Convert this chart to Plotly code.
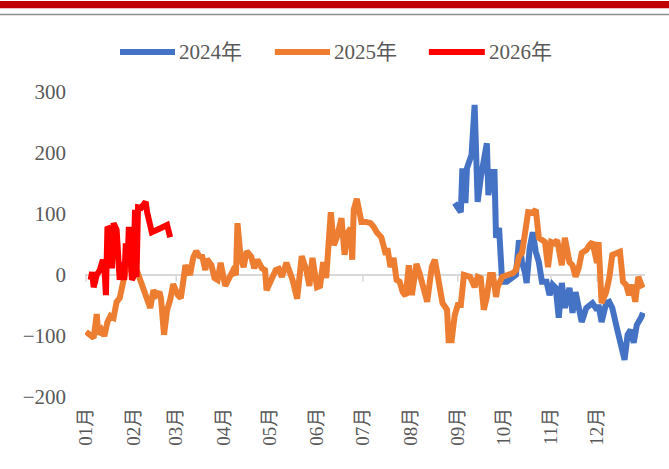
import plotly.graph_objects as go

# 日期统一映射到同一年份(2001)上，按月日对齐比较
BASE_YEAR = "2001"

# 2024年 (9月起)
dates_2024 = [
    "08-30", "09-01", "09-03", "09-04", "09-06", "09-07", "09-10", "09-12", "09-14", "09-16",
    "09-20", "09-21", "09-23", "09-25", "09-26", "09-28", "09-30", "10-03", "10-06", "10-09",
    "10-11", "10-13", "10-15", "10-16", "10-18", "10-20", "10-22", "10-24", "10-26", "10-29",
    "10-31", "11-02", "11-04", "11-06", "11-08", "11-10", "11-13", "11-15", "11-17", "11-19",
    "11-21", "11-24", "11-26", "11-28", "12-01", "12-02", "12-04", "12-07", "12-09", "12-11",
    "12-14", "12-18", "12-19", "12-21", "12-23", "12-25", "12-27", "12-30", "12-31",
]
values_2024 = [
    118, 111, 103, 175, 118, 175, 197, 279, 120, 159,
    216, 131, 169, 169, 61, 77, -11, -11, -5, 0,
    57, 21, 3, -13, 44, 70, 38, 21, -11, -11,
    -33, -16, -21, -70, -13, -54, -21, -62, -28, -54,
    -77, -54, -49, -46, -57, -49, -77, -46, -44, -54,
    -87, -126, -139, -98, -90, -111, -82, -69, -62,
]

# 2025年 (全年)
dates_2025 = [
    "01-01", "01-04", "01-06", "01-08", "01-09", "01-11", "01-13", "01-15", "01-17", "01-19",
    "01-21", "01-23", "01-24", "01-25", "01-27", "01-29", "01-31", "02-02", "02-05", "02-08",
    "02-12", "02-14", "02-16", "02-18", "02-19", "02-21", "02-23", "02-25", "02-27", "03-02",
    "03-04", "03-07", "03-10", "03-12", "03-14", "03-16", "03-18", "03-20", "03-21", "03-24",
    "03-26", "03-28", "03-30", "04-02", "04-05", "04-07", "04-09", "04-10", "04-12", "04-14",
    "04-16", "04-19", "04-21", "04-23", "04-26", "04-28", "04-29", "05-02", "05-05", "05-07",
    "05-09", "05-12", "05-14", "05-16", "05-19", "05-22", "05-25", "05-27", "05-29", "06-01",
    "06-03", "06-05", "06-07", "06-10", "06-12", "06-14", "06-17", "06-19", "06-21", "06-23",
    "06-24", "06-25", "06-27", "06-30", "07-03", "07-06", "07-08", "07-10", "07-13", "07-15",
    "07-16", "07-17", "07-19", "07-21", "07-23", "07-25", "07-27", "07-29", "07-31", "08-02",
    "08-05", "08-07", "08-09", "08-12", "08-15", "08-17", "08-19", "08-22", "08-25", "08-26",
    "08-28", "08-30", "09-01", "09-03", "09-05", "09-09", "09-10", "09-12", "09-14", "09-16",
    "09-18", "09-20", "09-22", "09-24", "09-26", "09-27", "09-30", "10-03", "10-07", "10-09",
    "10-11", "10-13", "10-16", "10-17", "10-20", "10-22", "10-24", "10-28", "10-30", "11-01",
    "11-03", "11-05", "11-08", "11-10", "11-13", "11-15", "11-17", "11-19", "11-21", "11-24",
    "11-26", "11-28", "12-01", "12-02", "12-04", "12-07", "12-09", "12-11", "12-14", "12-16",
    "12-18", "12-20", "12-22", "12-24", "12-26", "12-28", "12-30", "12-31",
]
values_2025 = [
    -93, -100, -103, -64, -97, -90, -100, -77, -67, -70,
    -44, -38, -25, -11, 8, 21, 5, 16, -5, -25,
    -54, -25, -33, -28, -38, -98, -57, -41, -15, -33,
    -38, 16, 0, 28, 39, 31, 30, 8, 26, 16,
    -5, -8, 20, -18, -3, 7, 0, 85, 30, 13,
    39, 30, 11, 25, 11, 8, -25, -11, 8, 10,
    -3, 20, 8, -8, -39, 31, 8, -18, 28, -20,
    -18, 21, -5, 103, 49, 62, 93, 33, 69, 77,
    25, 107, 125, 87, 87, 85, 79, 70, 62, 46,
    33, 44, 13, 28, -8, -11, -28, -34, 16, -33,
    18, 3, -20, -44, 13, 25, -3, -46, -57, -107,
    -107, -66, -49, -49, 0, -3, -8, -20, -3, -5,
    -57, -36, 0, 0, -36, -20, -3, 0, 3, 8,
    30, 36, 85, 103, 102, 107, 61, 54, 13, 54,
    52, 57, 16, 61, 21, 16, -3, 11, 36, 41,
    49, 54, 20, 54, -46, -28, -5, 33, 36, 38,
    -11, -16, -33, -16, -44, -3, -16, -21,
]

# 2026年 (年初至今)
dates_2026 = [
    "01-04", "01-05", "01-06", "01-08", "01-10", "01-12", "01-13", "01-14", "01-15", "01-17",
    "01-18", "01-19", "01-21", "01-22", "01-23", "01-24", "01-26", "01-27", "01-28", "01-29",
    "01-31", "02-01", "02-02", "02-03", "02-04", "02-06", "02-09", "02-10", "02-12", "02-13",
    "02-19", "02-23", "02-25",
]
values_2026 = [
    -8, 5, -20, 0, 8, 25, 13, -33, 79, 74,
    11, 85, 74, 3, -8, 21, -8, 52, 13, 79,
    -8, -3, 107, -3, 111, 110, 120, 102, 79, 70,
    77, 82, 62,
]

month_ticks = [f"{BASE_YEAR}-{m:02d}-01" for m in range(1, 13)]
month_labels = [f"{m:02d}月" for m in range(1, 13)]
y_ticks = [-200, -100, 0, 100, 200, 300]

series = [
    ("2024年", dates_2024, values_2024, "#4472C4"),
    ("2025年", dates_2025, values_2025, "#ED7D31"),
    ("2026年", dates_2026, values_2026, "#FF0000"),
]

FONT = "Liberation Serif, Times New Roman, Noto Sans CJK SC, serif"
TEXT_COLOR = "#595959"

fig = go.Figure()
for name, dates, vals, color in series:
    fig.add_trace(go.Scatter(
        x=[f"{BASE_YEAR}-{d}" for d in dates],
        y=vals,
        mode="lines",
        name=name,
        line=dict(color=color, width=6),
        showlegend=False,
    ))

# small tick marks hanging below the zero line (Excel style axis crossing at 0)
for t in month_ticks:
    fig.add_shape(type="line", xref="x", yref="y", x0=t, x1=t, y0=0, y1=-11,
                  line=dict(color="#d9d9d9", width=1.5), layer="below")

# hand-built legend (longer line swatches than plotly's default)
legend_x = [(0.0625, 0.1607), (0.339, 0.4375), (0.614, 0.714)]
legend_y = 1.131
for (name, _, _, color), (lx0, lx1) in zip(series, legend_x):
    fig.add_shape(type="line", xref="paper", yref="paper", x0=lx0, x1=lx1,
                  y0=legend_y, y1=legend_y, line=dict(color=color, width=6))
    fig.add_annotation(xref="paper", yref="paper", x=lx1 + 0.004, y=legend_y,
                       text=name, showarrow=False, xanchor="left", yanchor="middle",
                       font=dict(size=21, color=TEXT_COLOR, family=FONT))

# header band
fig.add_shape(type="rect", xref="paper", yref="paper", x0=-0.16, x1=1.06,
              y0=1.275, y1=1.298, fillcolor="#C00000", line_width=0)
fig.add_shape(type="line", xref="paper", yref="paper", x0=-0.16, x1=1.06,
              y0=1.254, y1=1.254, line=dict(color="#8c8c8c", width=1.5))

fig.update_layout(
    width=669,
    height=469,
    margin=dict(l=85, r=24, t=92, b=72),
    plot_bgcolor="white",
    paper_bgcolor="white",
    showlegend=False,
    font=dict(family=FONT, color=TEXT_COLOR),
    xaxis=dict(
        type="date",
        range=["2000-12-31 08:00", "2002-01-01 09:00"],
        tickvals=month_ticks,
        ticktext=month_labels,
        tickangle=-90,
        tickfont=dict(size=19, color=TEXT_COLOR, family=FONT),
        showgrid=False,
        zeroline=False,
        showline=False,
        ticks="",
        ticklabelstandoff=6,
    ),
    yaxis=dict(
        range=[-200, 300],
        tickvals=y_ticks,
        showgrid=False,
        zeroline=True,
        zerolinecolor="#d9d9d9",
        zerolinewidth=2,
        showline=False,
        ticks="",
        tickfont=dict(size=21, color=TEXT_COLOR, family=FONT),
        ticklabelstandoff=18,
    ),
)

# page body has a default 8px margin; remove it so the figure sits at the window origin
fig.write_html(
    "out.html",
    config={"displayModeBar": False},
    post_script="document.body.style.margin='0px';",
)
